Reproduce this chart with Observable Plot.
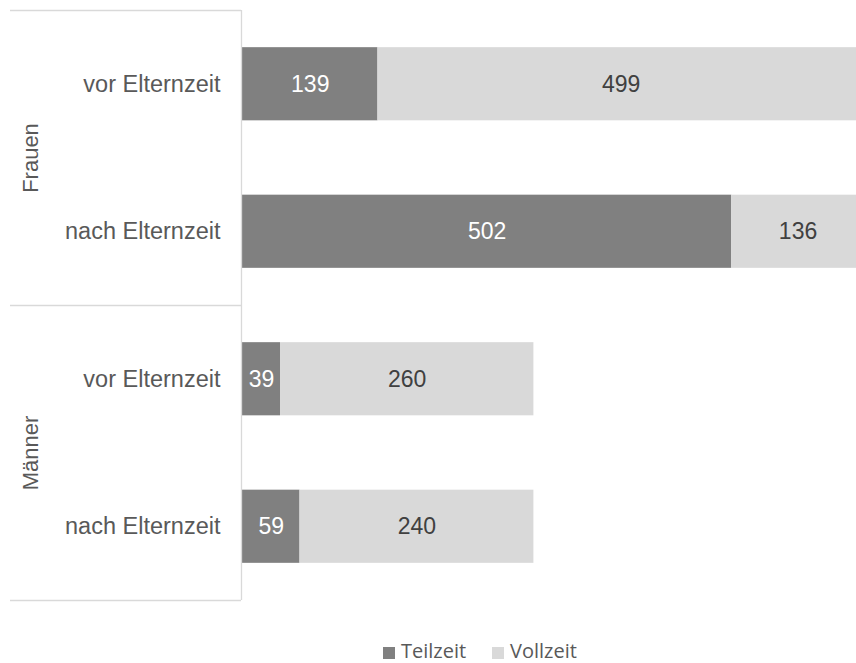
<!DOCTYPE html>
<html>
<head>
<meta charset="utf-8">
<script src="https://cdn.jsdelivr.net/npm/d3@7"></script>
<script src="https://cdn.jsdelivr.net/npm/@observablehq/plot@0.6"></script>
<style>
  body { margin: 0; background: #fff; }
  #legend { position: relative; height: 33px; font-family: "Open Sans", sans-serif; font-size: 20px; color: #595959; }
  .item { position: absolute; top: 9px; display: flex; align-items: center; line-height: 24px; }
  .sw { width: 12px; height: 12px; display: inline-block; margin-right: 6px; margin-top: 3px; }
</style>
</head>
<body>
<div id="chart"></div>
<div id="legend"></div>
<script>
const groups = ["Frauen", "Frauen", "Männer", "Männer"];
const conditions = ["vor Elternzeit", "nach Elternzeit", "vor Elternzeit", "nach Elternzeit"];
const teilzeit = [139, 502, 39, 59];
const vollzeit = [499, 136, 260, 240];
const seriesNames = ["Teilzeit", "Vollzeit"];
const seriesColors = ["#808080", "#d9d9d9"];
const labelColors = ["#ffffff", "#404040"];
const groupNames = ["Frauen", "Männer"];

const rows = conditions.map((c, i) => ({idx: i, group: groups[i], cond: c}));
const segs = [];
rows.forEach((r, i) => {
  segs.push({idx: i, series: seriesNames[0], value: teilzeit[i], x1: 0, x2: teilzeit[i]});
  segs.push({idx: i, series: seriesNames[1], value: vollzeit[i], x1: teilzeit[i], x2: teilzeit[i] + vollzeit[i]});
});
const groupCenters = groupNames.map((g, k) => ({name: g, y: 2 * k + 1}));
const groupBounds = [0, 2, 4];

const W = 856, H = 630, ML = 242;
const plot = Plot.plot({
  width: W,
  height: H,
  marginLeft: ML,
  marginRight: 0,
  marginTop: 10,
  marginBottom: 30,
  style: {fontFamily: "'Liberation Sans', Arial, sans-serif", overflow: "visible"},
  x: {domain: [0, 630], axis: null},
  y: {domain: [0, 4], axis: null, reverse: true},
  color: {domain: seriesNames, range: seriesColors},
  marks: [
    Plot.rectX(segs, {
      x1: "x1", x2: "x2",
      y1: d => d.idx + 0.252, y2: d => d.idx + 0.748,
      fill: "series", clip: true
    }),
    Plot.text(segs, {
      x: d => (d.x1 + d.x2) / 2,
      y: d => d.idx + 0.5,
      text: d => String(d.value),
      fill: d => labelColors[seriesNames.indexOf(d.series)],
      fontSize: 23
    }),
    Plot.text(rows, {
      x: 0, y: d => d.idx + 0.5, text: "cond",
      textAnchor: "end", dx: -22, fontSize: 23.5, fill: "#595959"
    }),
    Plot.text(groupCenters, {
      x: 0, y: "y", text: "name", rotate: -90,
      dx: -212, fontSize: 22, fill: "#595959"
    }),
    Plot.ruleX([0], {stroke: "#d9d9d9", strokeWidth: 1.3, dx: -1}),
    Plot.ruleY(groupBounds, {stroke: "#d9d9d9", strokeWidth: 1.3, insetLeft: -(ML - 10), insetRight: W - ML + 1})
  ]
});
document.getElementById("chart").appendChild(plot);

const legend = document.getElementById("legend");
const lx = [383, 492];
seriesNames.forEach((s, i) => {
  const it = document.createElement("div");
  it.className = "item";
  it.style.left = lx[i] + "px";
  const sw = document.createElement("span");
  sw.className = "sw";
  sw.style.background = seriesColors[i];
  it.appendChild(sw);
  it.appendChild(document.createTextNode(s));
  legend.appendChild(it);
});
</script>
</body>
</html>
